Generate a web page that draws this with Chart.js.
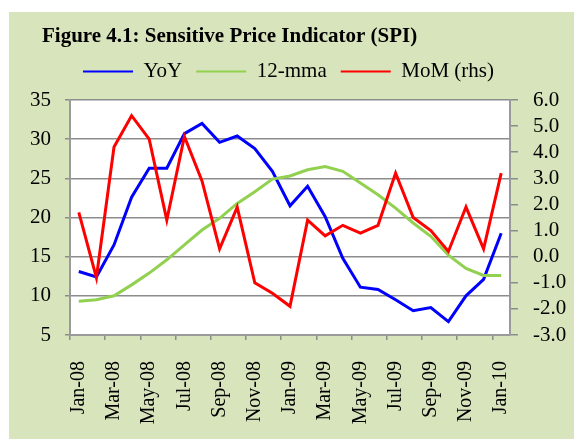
<!DOCTYPE html>
<html>
<head>
<meta charset="utf-8">
<script src="https://cdn.jsdelivr.net/npm/chart.js@4.4.0/dist/chart.umd.min.js"></script>
<style>
    html, body { margin: 0; padding: 0; background: #ffffff; }
    #panel { position: absolute; left: 9px; top: 12px; width: 565px; height: 427px; background: #d8e4bc; }
</style>
</head>
<body>
<div id="panel"><canvas id="spi-chart" width="565" height="427"></canvas></div>
<script>
var chartTitle = 'Figure 4.1: Sensitive Price Indicator (SPI)';
var months = ['Jan-08', 'Feb-08', 'Mar-08', 'Apr-08', 'May-08', 'Jun-08', 'Jul-08', 'Aug-08', 'Sep-08',
    'Oct-08', 'Nov-08', 'Dec-08', 'Jan-09', 'Feb-09', 'Mar-09', 'Apr-09', 'May-09', 'Jun-09', 'Jul-09',
    'Aug-09', 'Sep-09', 'Oct-09', 'Nov-09', 'Dec-09', 'Jan-10'];
var yoy = [13.1, 12.4, 16.5, 22.6, 26.3, 26.3, 30.7, 32.0, 29.6, 30.4, 28.8, 25.9, 21.5,
    24.0, 20.1, 14.8, 11.1, 10.8, 9.5, 8.1, 8.5, 6.7, 10.0, 12.1, 18.0];
var mma12 = [9.3, 9.5, 10.0, 11.4, 12.9, 14.6, 16.5, 18.4, 19.9, 21.8, 23.3, 24.9, 25.3,
    26.1, 26.5, 25.9, 24.4, 22.9, 21.2, 19.3, 17.6, 15.2, 13.5, 12.6, 12.6];
var mom = [1.7, -0.8, 4.2, 5.4, 4.5, 1.4, 4.6, 2.9, 0.3, 1.9, -1.0, -1.4, -1.9,
    1.4, 0.8, 1.2, 0.9, 1.2, 3.2, 1.5, 1.0, 0.2, 1.9, 0.3, 3.2];

var serif = "'Liberation Serif', 'Times New Roman', serif";
var gridGray = '#8c8c8c';
var axisGray = '#9a9a9a';

// white plot area on the green panel
var plotBackground = {
    id: 'plotBackground',
    beforeDraw: function (chart) {
        var a = chart.chartArea;
        chart.ctx.save();
        chart.ctx.fillStyle = '#ffffff';
        chart.ctx.fillRect(a.left, a.top, a.right - a.left, a.bottom - a.top);
        chart.ctx.restore();
    }
};

// title sits left of the y axis labels, so it is drawn here
var leftTitle = {
    id: 'leftTitle',
    afterDraw: function (chart) {
        var c = chart.ctx;
        c.save();
        c.font = 'bold 21px ' + serif;
        c.fillStyle = '#000000';
        c.textBaseline = 'middle';
        c.fillText(chartTitle, 33, 25);
        c.restore();
    }
};

Chart.defaults.font.family = serif;
Chart.defaults.color = '#000000';

var ctx = document.getElementById('spi-chart').getContext('2d');
var spiChart = new Chart(ctx, {
    type: 'line',
    data: {
        labels: months,
        datasets: [{
            label: 'YoY',
            data: yoy,
            borderColor: '#0000ff',
            backgroundColor: '#0000ff',
            yAxisID: 'y',
            order: 2
        }, {
            label: '12-mma',
            data: mma12,
            borderColor: '#92d050',
            backgroundColor: '#92d050',
            yAxisID: 'y',
            order: 1
        }, {
            label: 'MoM (rhs)',
            data: mom,
            borderColor: '#ff0000',
            backgroundColor: '#ff0000',
            yAxisID: 'y1',
            order: 0
        }]
    },
    options: {
        responsive: false,
        animation: false,
        layout: { padding: { left: 0, right: 6, top: 35, bottom: 0 } },
        elements: {
            line: { borderWidth: 3, tension: 0 },
            point: { radius: 0 }
        },
        plugins: {
            tooltip: { enabled: false },
            title: { display: false },
            subtitle: {
                // spacer between legend and plot
                display: true,
                text: ' ',
                weight: 500,
                font: { size: 1, lineHeight: 1 },
                padding: { top: 0, bottom: 7 }
            },
            legend: {
                position: 'top',
                labels: {
                    font: { size: 21 },
                    boxWidth: 50,
                    boxHeight: 0,
                    padding: 14,
                    sort: function (a, b) { return a.datasetIndex - b.datasetIndex; },
                    generateLabels: function (chart) {
                        var items = Chart.defaults.plugins.legend.labels.generateLabels(chart);
                        items.forEach(function (it) { it.lineWidth = 2; });
                        return items;
                    }
                }
            }
        },
        scales: {
            x: {
                offset: true,
                grid: {
                    offset: true,
                    drawOnChartArea: false,
                    tickLength: 5,
                    lineWidth: 1.5,
                    color: function (c) { return c.index % 2 === 0 ? gridGray : 'rgba(0,0,0,0)'; }
                },
                border: { color: axisGray, width: 2 },
                ticks: {
                    autoSkip: false,
                    minRotation: 90,
                    maxRotation: 90,
                    padding: 21,
                    font: { size: 20 },
                    callback: function (v, i) { return i % 2 === 0 ? this.getLabelForValue(v) : ''; }
                },
                afterFit: function (scale) { scale.height = 104; }
            },
            y: {
                position: 'left',
                min: 5,
                max: 35,
                grid: { color: gridGray, lineWidth: 1.5, tickLength: 5 },
                border: { color: axisGray, width: 2 },
                ticks: { stepSize: 5, padding: 14, autoSkip: false, font: { size: 21, lineHeight: 1 } },
                afterFit: function (scale) { scale.width = 61; }
            },
            y1: {
                position: 'right',
                min: -3,
                max: 6,
                grid: { drawOnChartArea: false, color: gridGray, lineWidth: 1.5, tickLength: 8 },
                border: { color: axisGray, width: 2 },
                ticks: {
                    stepSize: 1,
                    padding: 15,
                    autoSkip: false,
                    font: { size: 21, lineHeight: 1 },
                    callback: function (v) { return v.toFixed(1); }
                },
                afterFit: function (scale) { scale.width = 58; }
            }
        }
    },
    plugins: [plotBackground, leftTitle]
});
</script>
</body>
</html>
